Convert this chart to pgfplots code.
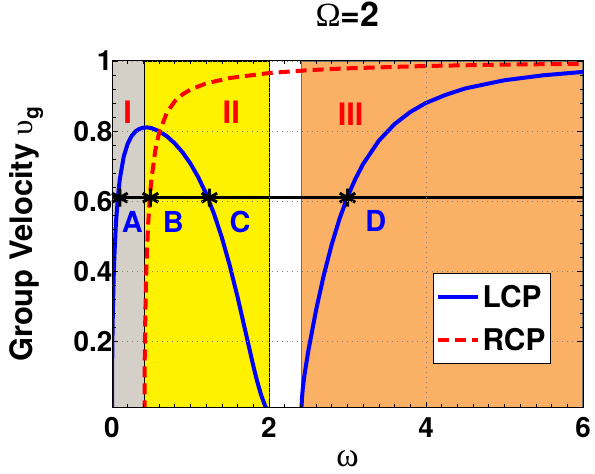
\documentclass[border=0pt]{standalone}
\usepackage{pgfplots}
\pgfplotsset{compat=1.18}
\usepackage{fontspec}
\setmainfont{TeX Gyre Heros}
\newfontfamily\symfont{Liberation Serif}

\definecolor{regiongray}{RGB}{212,208,200}
\definecolor{regionorange}{RGB}{250,177,102}
\definecolor{edgegray}{RGB}{110,110,110}

\begin{document}
\begin{tikzpicture}
\begin{axis}[
  width=471bp, height=347bp, scale only axis,
  xmin=0, xmax=6, ymin=0.01, ymax=1,
  xtick={0,2,4,6}, ytick={0.2,0.4,0.6,0.8,1},
  minor x tick num=9, minor y tick num=4,
  tick align=inside, major tick length=6bp, minor tick length=3.5bp,
  tick style={black, line width=0.8bp},
  axis line style={black, line width=1bp},
  grid=major,
  major grid style={gray, line width=0.8bp, dash pattern=on 0.8bp off 4.2bp},
  axis on top,
  /pgf/number format/assume math mode=true,
  tick label style={font=\bfseries\fontsize{28}{28}\selectfont},
  xticklabel style={yshift=-6bp},
  yticklabel style={xshift=4bp},
  xlabel={ω},
  xlabel style={at={(axis description cs:0.5,-0.170)}, anchor=base,
    font=\symfont\fontsize{34}{34}\selectfont},
  ylabel={Group Velocity {\mdseries\symfont υ}\raisebox{-0.35ex}{\fontsize{21}{21}\selectfont g}},
  ylabel style={at={(axis description cs:-0.168,0.5)}, anchor=base,
    font=\bfseries\fontsize{31}{31}\selectfont},
  title={{\mdseries\symfont Ω}=2},
  title style={at={(axis description cs:0.5,1.0836)}, anchor=base,
    font=\bfseries\fontsize{34}{34}\selectfont},
  legend style={at={(0.932,0.389)}, anchor=north east,
    font=\bfseries\fontsize{30}{30}\selectfont,
    draw=black, line width=1bp, fill=white,
    inner xsep=2bp, inner ysep=2.5bp, row sep=0bp,
    nodes={inner xsep=3bp, inner ysep=9.5bp}},
  legend cell align=left,
  legend image code/.code={\draw[#1] (0bp,0bp) -- (40bp,0bp);},
  clip mode=individual,
]
% propagation regions
\addplot[fill=regiongray, draw=none, forget plot]
  coordinates {(0,0.01) (0.41421,0.01) (0.41421,1) (0,1)} -- cycle;
\addplot[fill=yellow, draw=black, line width=0.8bp, forget plot]
  coordinates {(0.41421,0.01) (2,0.01) (2,1) (0.41421,1)} -- cycle;
\addplot[fill=regionorange, draw=edgegray, line width=1.5bp, forget plot]
  coordinates {(2.41421,0.01) (6,0.01) (6,1) (2.41421,1)} -- cycle;

% reference group velocity
\addplot[black, line width=3.5bp, forget plot]
  coordinates {(0,0.61) (6,0.61)};

% LCP branches
\addplot[blue, line width=4bp]
  coordinates {
  (0,0) (0.0005,0.0631) (0.001,0.0891) (0.002,0.1256) (0.005,0.1963)
  (0.01,0.2727) (0.02,0.3725) (0.03,0.4415) (0.05,0.5360) (0.075,0.612)
  (0.1,0.664) (0.15,0.7279) (0.2,0.7643) (0.25,0.7860) (0.3,0.7991)
  (0.35,0.8065) (0.4,0.8099) (0.45,0.8104) (0.5,0.8087) (0.6,0.7999)
  (0.7,0.7851) (0.8,0.7649) (0.9,0.7391) (1.0,0.7071) (1.1,0.6680)
  (1.2,0.6207) (1.3,0.5637) (1.4,0.4960) (1.5,0.4166) (1.6,0.3263)
  (1.7,0.2283) (1.8,0.1305) (1.85,0.0857) (1.9,0.0467) (1.95,0.0163)
  (1.97,0.0075) (2,0)
  };
\addlegendentry{LCP}
\addplot[blue, line width=4bp, forget plot]
  coordinates {
  (2.41421,0) (2.4145,0.0083) (2.415,0.0138) (2.42,0.0380) (2.43,0.0643)
  (2.45,0.1011) (2.5,0.1720) (2.6,0.2897) (2.7,0.3908) (2.8,0.4775)
  (2.9,0.5509) (3.0,0.6124) (3.1,0.6634) (3.2,0.7066) (3.4,0.7728)
  (3.6,0.8201) (3.8,0.8546) (4.0,0.8804) (4.25,0.9034) (4.5,0.9218)
  (5.0,0.9451) (5.5,0.9594) (6.0,0.9688)
  };

% RCP branch
\addplot[red, line width=4bp, dash pattern=on 11bp off 6bp]
  coordinates {
  (0.41421,0) (0.4143,0.0267) (0.4145,0.0485) (0.415,0.0803) (0.417,0.1501)
  (0.42,0.2140) (0.43,0.3420) (0.44,0.4235) (0.46,0.5322) (0.48,0.6048)
  (0.5,0.6577) (0.55,0.7436) (0.6,0.7952) (0.7,0.8535) (0.8,0.8851)
  (0.9,0.9050) (1.0,0.9186) (1.2,0.9362) (1.5,0.9515) (2.0,0.9656)
  (2.5,0.9738) (3.0,0.9791) (4.0,0.9858) (5.0,0.9897) (6.0,0.9921)
  };
\addlegendentry{RCP}

% crossing points
\addplot[only marks, black, mark=asterisk, mark size=9bp, line width=3bp, forget plot]
  coordinates {(0.1,0.61) (0.49,0.61) (1.24,0.61) (3.0,0.61)};

% region and point labels
\begin{scope}[font=\bfseries\fontsize{31}{31}\selectfont, text=red]
  \node at (axis cs:0.2,0.855) {I};
  \node at (axis cs:1.52,0.855) {II};
  \node at (axis cs:3.04,0.848) {III};
\end{scope}
\begin{scope}[font=\bfseries\fontsize{29}{29}\selectfont, text=blue]
  \node at (axis cs:0.26,0.54) {A};
  \node at (axis cs:0.78,0.54) {B};
  \node at (axis cs:1.63,0.54) {C};
  \node at (axis cs:3.36,0.545) {D};
\end{scope}
\end{axis}
\pgfresetboundingbox
\path[use as bounding box] ([shift={(-112bp,-66bp)}]current axis.south west) rectangle ([shift={(12bp,61bp)}]current axis.north east);
\end{tikzpicture}
\end{document}
